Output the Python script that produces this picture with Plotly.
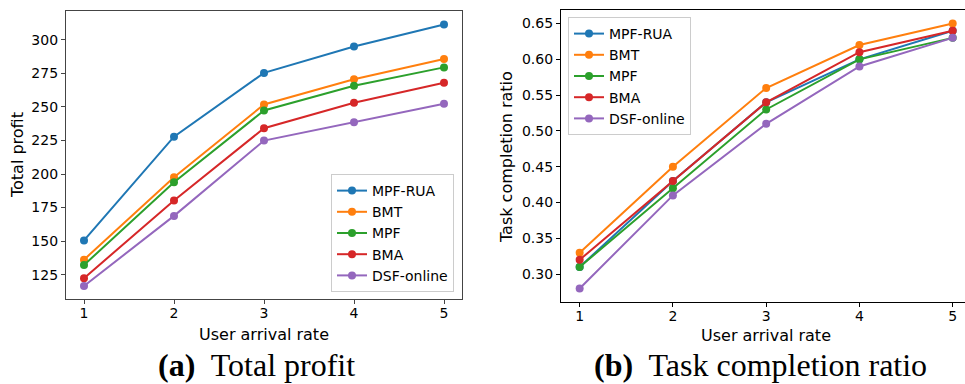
import plotly.graph_objects as go

x_rates = [1, 2, 3, 4, 5]
series_names = ["MPF-RUA", "BMT", "MPF", "BMA", "DSF-online"]
colors = ["#1f77b4", "#ff7f0e", "#2ca02c", "#d62728", "#9467bd"]

profit_mpf_rua = [150.5, 227.8, 275.3, 295.0, 311.4]
profit_bmt = [136.2, 197.6, 251.8, 270.6, 285.6]
profit_mpf = [132.2, 193.8, 247.3, 265.7, 279.4]
profit_bma = [122.4, 180.2, 234.1, 253.0, 268.0]
profit_dsf = [116.6, 168.8, 224.9, 238.6, 252.3]

ratio_mpf_rua = [0.31, 0.43, 0.54, 0.60, 0.64]
ratio_bmt = [0.33, 0.45, 0.56, 0.62, 0.65]
ratio_mpf = [0.31, 0.42, 0.53, 0.60, 0.63]
ratio_bma = [0.32, 0.43, 0.54, 0.61, 0.64]
ratio_dsf = [0.28, 0.41, 0.51, 0.59, 0.63]

profit_ticks = [125, 150, 175, 200, 225, 250, 275, 300]
ratio_ticks = [0.30, 0.35, 0.40, 0.45, 0.50, 0.55, 0.60, 0.65]

profits = [profit_mpf_rua, profit_bmt, profit_mpf, profit_bma, profit_dsf]
ratios = [ratio_mpf_rua, ratio_bmt, ratio_mpf, ratio_bma, ratio_dsf]

fig = go.Figure()
for name, c, ys in zip(series_names, colors, profits):
    fig.add_trace(go.Scatter(x=x_rates, y=ys, name=name, mode="lines+markers",
                             line=dict(color=c, width=2), marker=dict(color=c, size=8),
                             xaxis="x", yaxis="y", legend="legend"))
for name, c, ys in zip(series_names, colors, ratios):
    fig.add_trace(go.Scatter(x=x_rates, y=ys, name=name, mode="lines+markers",
                             line=dict(color=c, width=2), marker=dict(color=c, size=8),
                             xaxis="x2", yaxis="y2", legend="legend2"))

tickfont = dict(family="DejaVu Sans", size=14, color="black")
W, H = 965, 384

def px(x):
    return x / W

def py(y):
    return 1 - y / H

fig.update_layout(
    width=W, height=H, margin=dict(l=0, r=0, t=0, b=0),
    paper_bgcolor="white", plot_bgcolor="white",
    font=dict(family="DejaVu Sans", size=14, color="black"),
    xaxis=dict(domain=[px(66), px(462)], range=[0.8, 5.2], tickvals=x_rates,
               showline=True, linecolor="#444", linewidth=1.2, mirror=True,
               ticks="outside", ticklen=4, tickcolor="#444", showgrid=False,
               zeroline=False, tickfont=tickfont, anchor="y", ticklabelstandoff=-3),
    yaxis=dict(domain=[py(299), py(11)], range=[106.9, 321.4], tickvals=profit_ticks,
               showline=True, linecolor="#444", linewidth=1.2, mirror=True,
               ticks="outside", ticklen=4, tickcolor="#444", showgrid=False,
               zeroline=False, tickfont=tickfont, anchor="x"),
    xaxis2=dict(domain=[px(561), 1.0], range=[0.8, 5.132], tickvals=x_rates,
                showline=True, linecolor="black", linewidth=1.2, mirror=True,
                ticks="outside", ticklen=4, tickcolor="black", showgrid=False,
                zeroline=False, tickfont=tickfont, anchor="y2", ticklabelstandoff=-3),
    yaxis2=dict(domain=[py(301.7), py(10.3)], range=[0.2615, 0.6685], tickvals=ratio_ticks,
                tickformat=".2f",
                showline=True, linecolor="black", linewidth=1.2, mirror=False,
                ticks="outside", ticklen=4, tickcolor="black", showgrid=False,
                zeroline=False, tickfont=tickfont, anchor="x2"),
    legend=dict(x=px(454), y=py(292), xanchor="right", yanchor="bottom",
                bgcolor="rgba(255,255,255,0.8)", bordercolor="#cccccc", borderwidth=1,
                font=dict(family="DejaVu Sans", size=14, color="black"),
                tracegroupgap=0),
    legend2=dict(x=px(568), y=py(17), xanchor="left", yanchor="top",
                 bgcolor="rgba(255,255,255,0.8)", bordercolor="#cccccc", borderwidth=1,
                 font=dict(family="DejaVu Sans", size=14, color="black"),
                 tracegroupgap=0),
    showlegend=True,
)

annots = [
    dict(text="User arrival rate", x=px(264), y=py(334), font=dict(family="DejaVu Sans", size=16)),
    dict(text="User arrival rate", x=px(766), y=py(335), font=dict(family="DejaVu Sans", size=16)),
    dict(text="Total profit", x=px(18), y=py(155), textangle=-90, font=dict(family="DejaVu Sans", size=16)),
    dict(text="Task completion ratio", x=px(506), y=py(157), textangle=-90, font=dict(family="DejaVu Sans", size=16)),
    dict(text="<b>(a)</b>  Total profit", x=px(256), y=py(365), font=dict(family="Liberation Serif", size=32)),
    dict(text="<b>(b)</b>  Task completion ratio", x=px(760), y=py(365), font=dict(family="Liberation Serif", size=32)),
]
for a in annots:
    a.update(xref="paper", yref="paper", showarrow=False, xanchor="center", yanchor="middle")
    a["font"]["color"] = "black"
    fig.add_annotation(**a)

fig.write_html("out.html")
